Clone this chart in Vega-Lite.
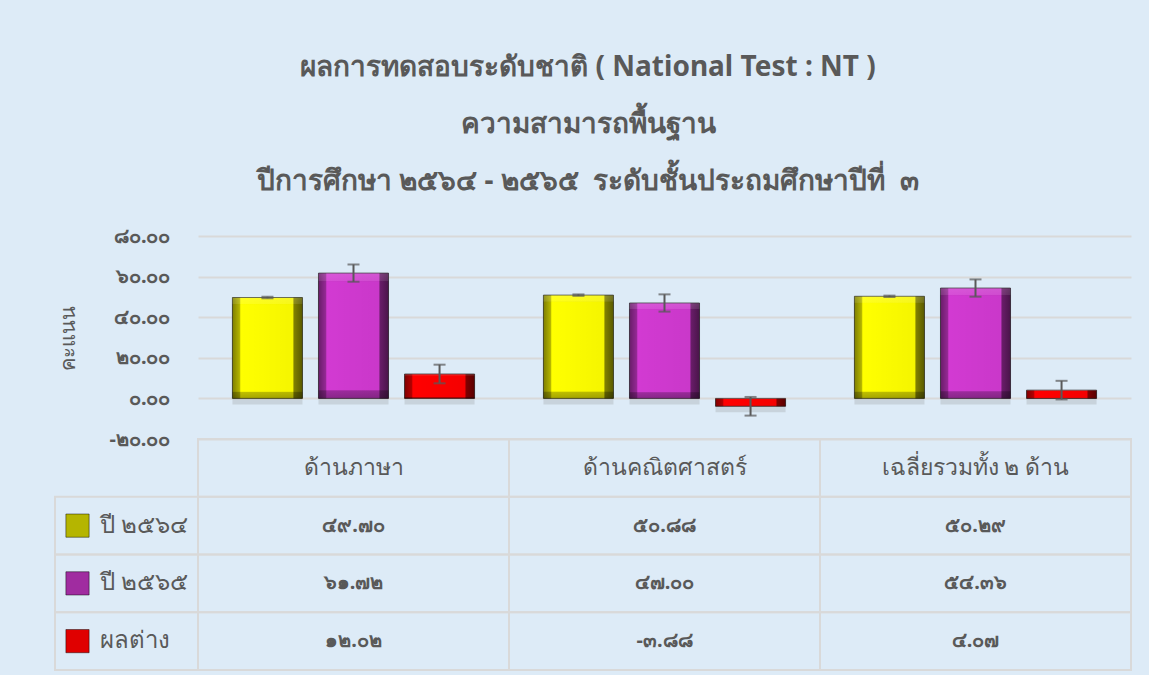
{
  "$schema": "https://vega.github.io/schema/vega-lite/v6.json",
  "background": "#DDEBF7",
  "padding": {"left": 54, "top": 54, "right": 18, "bottom": 6},
  "config": {"view": {"stroke": null}, "font": "Noto Sans"},
  "title": {
    "text": ["ผลการทดสอบระดับชาติ ( National Test : NT )", "ความสามารถพื้นฐาน", "ปีการศึกษา ๒๕๖๔ - ๒๕๖๕ \u00a0ระดับชั้นประถมศึกษาปีที่ \u00a0๓"],
    "fontSize": 28, "fontWeight": "bold", "color": "#595959", "lineHeight": 57, "anchor": "middle", "offset": 30, "dx": -5
  },
  "datasets": {
    "scores": [
      {"category": "ด้านภาษา", "series": "ปี ๒๕๖๔", "value": 49.70, "err": 0.34},
      {"category": "ด้านภาษา", "series": "ปี ๒๕๖๕", "value": 61.72, "err": 4.25},
      {"category": "ด้านภาษา", "series": "ผลต่าง", "value": 12.02, "err": 4.59},
      {"category": "ด้านคณิตศาสตร์", "series": "ปี ๒๕๖๔", "value": 50.88, "err": 0.34},
      {"category": "ด้านคณิตศาสตร์", "series": "ปี ๒๕๖๕", "value": 47.00, "err": 4.25},
      {"category": "ด้านคณิตศาสตร์", "series": "ผลต่าง", "value": -3.88, "err": 4.59},
      {"category": "เฉลี่ยรวมทั้ง ๒ ด้าน", "series": "ปี ๒๕๖๔", "value": 50.29, "err": 0.34},
      {"category": "เฉลี่ยรวมทั้ง ๒ ด้าน", "series": "ปี ๒๕๖๕", "value": 54.36, "err": 4.25},
      {"category": "เฉลี่ยรวมทั้ง ๒ ด้าน", "series": "ผลต่าง", "value": 4.07, "err": 4.59}
    ]
  },
  "resolve": {"scale": {"color": "independent"}},
  "columns": 2,
  "spacing": 0,
  "bounds": "flush",
  "align": "none",
  "concat": [
    {
      "width": 143, "height": 203,
      "data": {"values": [{"t": ""}]},
      "mark": {"type": "text"},
      "encoding": {"text": {"field": "t"}}
    },
    {
      "width": 933, "height": 203,
      "data": {"name": "scores"},
      "transform": [
        {"calculate": "datum.value - datum.err", "as": "lo"},
        {"calculate": "datum.value + datum.err", "as": "hi"}
      ],
      "encoding": {
        "x": {"field": "category", "type": "nominal", "sort": ["ด้านภาษา", "ด้านคณิตศาสตร์", "เฉลี่ยรวมทั้ง ๒ ด้าน"], "scale": {"paddingInner": 0, "paddingOuter": 0}, "axis": null},
        "xOffset": {"field": "series", "type": "nominal", "sort": ["ปี ๒๕๖๔", "ปี ๒๕๖๕", "ผลต่าง"], "scale": {"paddingInner": 0.186, "paddingOuter": 0.4}}
      },
      "layer": [
        {
          "mark": {"type": "bar", "color": "#7F7F7F", "opacity": 0.22, "yOffset": 6, "y2Offset": 6, "xOffset": 1},
          "encoding": {
            "y": {"field": "value", "type": "quantitative", "scale": {"domain": [-20, 80], "nice": false, "zero": false},
              "axis": {
                "values": [-20, 0, 20, 40, 60, 80], "format": ".2f",
                "labelExpr": "replace(replace(replace(replace(replace(replace(replace(replace(replace(replace(replace(datum.label,'−','-'),regexp('0','g'),'๐'),regexp('1','g'),'๑'),regexp('2','g'),'๒'),regexp('3','g'),'๓'),regexp('4','g'),'๔'),regexp('5','g'),'๕'),regexp('6','g'),'๖'),regexp('7','g'),'๗'),regexp('8','g'),'๘'),regexp('9','g'),'๙')",
                "title": "คะแนน", "titleFontSize": 20, "titleFontWeight": "normal", "titleColor": "#595959", "titlePadding": 30,
                "labelFontSize": 20, "labelFontWeight": "bold", "labelColor": "#595959", "labelPadding": 28,
                "domain": false, "ticks": false, "gridColor": "#D9D9D9", "gridWidth": 2
              }
            }
          }
        },
        {
          "mark": {"type": "bar", "stroke": "rgba(40,40,40,0.7)", "strokeWidth": 1},
          "encoding": {
            "y": {"field": "value", "type": "quantitative"},
            "color": {"field": "series", "type": "nominal", "scale": {"domain": ["ปี ๒๕๖๔", "ปี ๒๕๖๕", "ผลต่าง"], "range": ["#FFFF00", "#D23AD2", "#FF0000"]}, "legend": null}
          }
        },
        {
          "mark": {"type": "bar", "stroke": null, "fill": {"gradient": "linear", "x1": 0, "x2": 1, "y1": 0, "y2": 0, "stops": [
            {"offset": 0, "color": "rgba(0,0,0,0.5)"},
            {"offset": 0.1, "color": "rgba(0,0,0,0.3)"},
            {"offset": 0.12, "color": "rgba(0,0,0,0)"},
            {"offset": 0.86, "color": "rgba(0,0,0,0.04)"},
            {"offset": 0.88, "color": "rgba(0,0,0,0.5)"},
            {"offset": 1, "color": "rgba(0,0,0,0.65)"}
          ]}},
          "encoding": {"y": {"field": "value", "type": "quantitative"}}
        },
        {
          "mark": {"type": "bar", "stroke": null, "fill": {"gradient": "linear", "x1": 0, "x2": 0, "y1": 0, "y2": 1, "stops": [
            {"offset": 0, "color": "rgba(255,255,255,0.15)"},
            {"offset": 0.06, "color": "rgba(255,255,255,0.1)"},
            {"offset": 0.07, "color": "rgba(0,0,0,0)"},
            {"offset": 0.93, "color": "rgba(0,0,0,0)"},
            {"offset": 0.94, "color": "rgba(0,0,0,0.25)"},
            {"offset": 1, "color": "rgba(0,0,0,0.35)"}
          ]}},
          "encoding": {"y": {"field": "value", "type": "quantitative"}}
        },
        {
          "mark": {"type": "rule", "color": "#595959", "strokeWidth": 2},
          "encoding": {"y": {"field": "lo", "type": "quantitative"}, "y2": {"field": "hi"}}
        },
        {
          "mark": {"type": "tick", "color": "#595959", "thickness": 2, "size": 12},
          "encoding": {"y": {"field": "lo", "type": "quantitative"}}
        },
        {
          "mark": {"type": "tick", "color": "#595959", "thickness": 2, "size": 12},
          "encoding": {"y": {"field": "hi", "type": "quantitative"}}
        }
      ]
    },
    {
      "width": 143, "height": 231,
      "data": {"name": "scores"},
      "transform": [{"filter": "datum.category === 'ด้านภาษา'"}],
      "encoding": {
        "y": {"field": "series", "type": "nominal", "scale": {"domain": ["h", "ปี ๒๕๖๔", "ปี ๒๕๖๕", "ผลต่าง"], "paddingInner": 0, "paddingOuter": 0}, "axis": null}
      },
      "layer": [
        {
          "mark": {"type": "rect", "fillOpacity": 0, "stroke": "#D9D9D9", "strokeWidth": 2},
          "encoding": {"x": {"value": 0}, "x2": {"value": "width"}}
        },
        {
          "mark": {"type": "point", "shape": "square", "filled": true, "size": 540, "xOffset": -49, "stroke": "rgba(0,0,0,0.45)", "strokeWidth": 1, "opacity": 1},
          "encoding": {"color": {"field": "series", "type": "nominal", "scale": {"domain": ["ปี ๒๕๖๔", "ปี ๒๕๖๕", "ผลต่าง"], "range": ["#B5B500", "#A02CA0", "#E00000"]}, "legend": null}}
        },
        {
          "mark": {"type": "text", "align": "left", "dx": -27, "fontSize": 24, "color": "#595959"},
          "encoding": {"text": {"field": "series"}}
        }
      ]
    },
    {
      "width": 933, "height": 231,
      "data": {"name": "scores"},
      "transform": [
        {"calculate": "replace(replace(replace(replace(replace(replace(replace(replace(replace(replace(replace(format(datum.value,'.2f'),'−','-'),regexp('0','g'),'๐'),regexp('1','g'),'๑'),regexp('2','g'),'๒'),regexp('3','g'),'๓'),regexp('4','g'),'๔'),regexp('5','g'),'๕'),regexp('6','g'),'๖'),regexp('7','g'),'๗'),regexp('8','g'),'๘'),regexp('9','g'),'๙')", "as": "label"}
      ],
      "encoding": {
        "x": {"field": "category", "type": "nominal", "sort": ["ด้านภาษา", "ด้านคณิตศาสตร์", "เฉลี่ยรวมทั้ง ๒ ด้าน"], "scale": {"paddingInner": 0, "paddingOuter": 0}, "axis": null}
      },
      "layer": [
        {
          "mark": {"type": "rect", "fillOpacity": 0, "stroke": "#D9D9D9", "strokeWidth": 2},
          "encoding": {"y": {"field": "series", "type": "nominal", "scale": {"domain": ["h", "ปี ๒๕๖๔", "ปี ๒๕๖๕", "ผลต่าง"], "paddingInner": 0, "paddingOuter": 0}, "axis": null}}
        },
        {
          "transform": [{"filter": "datum.series === 'ปี ๒๕๖๔'"}],
          "mark": {"type": "rect", "fillOpacity": 0, "stroke": "#D9D9D9", "strokeWidth": 2},
          "encoding": {"y": {"datum": "h", "type": "nominal"}}
        },
        {
          "mark": {"type": "text", "fontSize": 20, "fontWeight": "bold", "color": "#595959"},
          "encoding": {"y": {"field": "series", "type": "nominal"}, "text": {"field": "label"}}
        },
        {
          "transform": [{"filter": "datum.series === 'ปี ๒๕๖๔'"}],
          "mark": {"type": "text", "fontSize": 23, "color": "#595959"},
          "encoding": {"y": {"datum": "h", "type": "nominal"}, "text": {"field": "category"}}
        }
      ]
    }
  ]
}
